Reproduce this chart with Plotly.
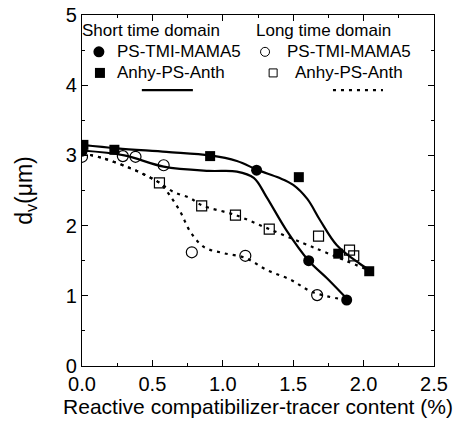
import plotly.graph_objects as go

# ---- measured data points ----
sq_fill_x = [0.01, 0.23, 0.91, 1.54, 1.82, 2.04]
sq_fill_y = [3.15, 3.08, 2.99, 2.69, 1.60, 1.35]

ci_fill_x = [0.0, 1.24, 1.61, 1.88]
ci_fill_y = [3.06, 2.79, 1.50, 0.94]

ci_open_x = [0.0, 0.29, 0.38, 0.58, 0.78, 1.16, 1.67]
ci_open_y = [2.98, 2.99, 2.98, 2.86, 1.62, 1.57, 1.01]

sq_open_x = [0.55, 0.85, 1.09, 1.33, 1.68, 1.90, 1.93]
sq_open_y = [2.61, 2.28, 2.15, 1.95, 1.85, 1.65, 1.57]

# ---- fitted curves ----
fitA_x = [0.0, 0.25, 0.6, 0.91, 1.1, 1.25, 1.4, 1.5, 1.6, 1.69, 1.81, 1.97, 2.04]
fitA_y = [3.15, 3.10, 3.05, 3.00, 2.92, 2.79, 2.68, 2.58, 2.38, 2.08, 1.72, 1.46, 1.37]

fitB_x = [0.0, 0.3, 0.58, 0.9, 1.1, 1.22, 1.31, 1.45, 1.61, 1.74, 1.89]
fitB_y = [3.07, 3.00, 2.84, 2.78, 2.77, 2.68, 2.41, 1.94, 1.50, 1.25, 0.94]

fitC_x = [0.0, 0.15, 0.34, 0.46, 0.55, 0.65, 0.77, 0.85, 1.09, 1.33, 1.57, 1.74, 2.03]
fitC_y = [3.03, 2.96, 2.82, 2.71, 2.61, 2.48, 2.39, 2.29, 2.15, 1.95, 1.75, 1.61, 1.37]

fitD_x = [0.0, 0.15, 0.34, 0.46, 0.55, 0.62, 0.70, 0.77, 0.87, 1.0, 1.16, 1.31, 1.48, 1.64, 1.88]
fitD_y = [3.03, 2.96, 2.82, 2.71, 2.61, 2.44, 2.19, 1.91, 1.69, 1.61, 1.54, 1.37, 1.23, 1.05, 0.94]

x_ticks = [0.0, 0.5, 1.0, 1.5, 2.0, 2.5]
x_tick_labels = ["0.0", "0.5", "1.0", "1.5", "2.0", "2.5"]
y_ticks = [0, 1, 2, 3, 4, 5]

FONT = "Liberation Sans, Arial, sans-serif"
DOT = "3px,5px"

fig = go.Figure()

for xs, ys, dash in [(fitA_x, fitA_y, "solid"), (fitB_x, fitB_y, "solid"),
                     (fitC_x, fitC_y, DOT), (fitD_x, fitD_y, DOT)]:
    fig.add_trace(go.Scatter(x=xs, y=ys, mode="lines", line_shape="spline",
                             line=dict(color="black", width=2.2, dash=dash),
                             showlegend=False, hoverinfo="skip"))

fig.add_trace(go.Scatter(x=ci_open_x, y=ci_open_y, mode="markers",
                         marker=dict(symbol="circle-open", size=11, color="black",
                                     line=dict(width=1.2)), showlegend=False))
fig.add_trace(go.Scatter(x=sq_open_x, y=sq_open_y, mode="markers",
                         marker=dict(symbol="square-open", size=10, color="black",
                                     line=dict(width=1.2)), showlegend=False))
fig.add_trace(go.Scatter(x=sq_fill_x, y=sq_fill_y, mode="markers",
                         marker=dict(symbol="square", size=10, color="black"),
                         showlegend=False))
fig.add_trace(go.Scatter(x=ci_fill_x, y=ci_fill_y, mode="markers",
                         marker=dict(symbol="circle", size=11, color="black"),
                         showlegend=False))

# ---- in-plot legend ----
ann = []
def txt(x, y, s):
    ann.append(dict(x=x, y=y, xref="paper", yref="paper", text=s, showarrow=False,
                    xanchor="left", yanchor="middle", borderpad=0,
                    font=dict(size=17, color="black", family=FONT)))

txt(-0.004, 0.957, "Short time domain")
txt(0.492, 0.957, "Long time domain")
txt(0.098, 0.895, "PS-TMI-MAMA5")
txt(0.580, 0.895, "PS-TMI-MAMA5")
txt(0.098, 0.835, "Anhy-PS-Anth")
txt(0.603, 0.835, "Anhy-PS-Anth")

shapes = []
def mk(kind, xa, ya, half, filled):
    shapes.append(dict(type=kind, xref="paper", yref="paper",
                       xsizemode="pixel", ysizemode="pixel",
                       xanchor=xa, yanchor=ya,
                       x0=-half, x1=half, y0=-half, y1=half,
                       line=dict(color="black", width=1 if not filled else 0),
                       fillcolor="black" if filled else "rgba(0,0,0,0)"))

mk("circle", 0.048, 0.895, 5.5, True)
mk("circle", 0.520, 0.895, 4.5, False)
mk("rect", 0.051, 0.835, 5, True)
mk("rect", 0.543, 0.835, 4, False)
shapes.append(dict(type="line", xref="paper", yref="paper", x0=0.170, x1=0.315,
                   y0=0.786, y1=0.786, line=dict(color="black", width=2.2)))
shapes.append(dict(type="line", xref="paper", yref="paper", x0=0.713, x1=0.855,
                   y0=0.786, y1=0.786, line=dict(color="black", width=2.2, dash=DOT)))

axis_common = dict(showline=True, linecolor="black", linewidth=1.2, mirror="allticks",
                   ticks="inside", ticklen=6, tickwidth=1, tickcolor="black",
                   showgrid=False, zeroline=False,
                   tickfont=dict(size=20, color="black", family=FONT))

fig.update_layout(
    width=475, height=428,
    margin=dict(l=82, r=41, t=15, b=62, autoexpand=False),
    plot_bgcolor="white", paper_bgcolor="white",
    font=dict(family=FONT, color="black"),
    annotations=ann, shapes=shapes,
    xaxis=dict(range=[0, 2.5], tickvals=x_ticks, ticktext=x_tick_labels,
               minor=dict(ticks="inside", ticklen=3, dtick=0.25, tickcolor="black"),
               title=dict(text="Reactive compatibilizer-tracer content (%)",
                          font=dict(size=21, family=FONT), standoff=2),
               **axis_common),
    yaxis=dict(range=[0, 5], tickvals=y_ticks,
               minor=dict(ticks="inside", ticklen=3, dtick=0.5, tickcolor="black"),
               title=dict(text="d<sub>v</sub>(μm)", font=dict(size=23, family=FONT),
                          standoff=26),
               **axis_common),
)

fig.write_html("out.html", config={"displayModeBar": False},
               post_script="document.body.style.margin='0';")
